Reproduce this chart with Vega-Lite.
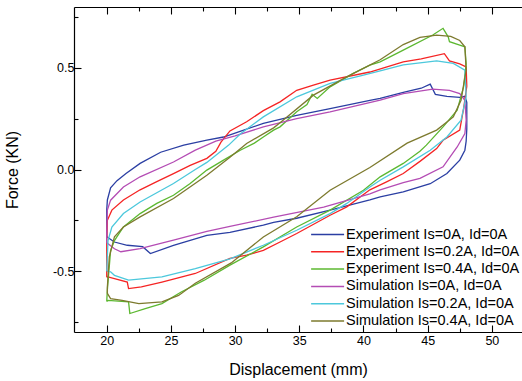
{
  "$schema": "https://vega.github.io/schema/vega-lite/v6.json",
  "width": 448,
  "height": 325,
  "autosize": {"type": "none"},
  "padding": {"left": 74, "top": 7, "right": 0, "bottom": 49},
  "background": "white",
  "config": {
    "view": {"stroke": null},
    "font": "Liberation Sans",
    "axis": {"grid": false, "domainColor": "black", "tickColor": "black", "labelColor": "black", "titleColor": "black", "labelFont": "Liberation Sans", "titleFont": "Liberation Sans", "labelFontSize": 12.5, "titleFontSize": 16, "titleFontWeight": "normal", "domainWidth": 1.2, "tickWidth": 1.1}
  },
  "data": {"values": [
    {"s":"E0","i":1,"x":20.0,"y":-0.33},{"s":"E0","i":2,"x":20.0,"y":-0.2},{"s":"E0","i":3,"x":20.05,"y":-0.15},{"s":"E0","i":4,"x":20.3,"y":-0.09},{"s":"E0","i":5,"x":20.8,"y":-0.055},{"s":"E0","i":6,"x":21.5,"y":-0.02},{"s":"E0","i":7,"x":22.6,"y":0.03},{"s":"E0","i":8,"x":24.2,"y":0.085},{"s":"E0","i":9,"x":26.0,"y":0.12},{"s":"E0","i":10,"x":27.8,"y":0.145},{"s":"E0","i":11,"x":29.1,"y":0.16},{"s":"E0","i":12,"x":30.5,"y":0.19},{"s":"E0","i":13,"x":32.2,"y":0.227},{"s":"E0","i":14,"x":34.8,"y":0.267},{"s":"E0","i":15,"x":37.4,"y":0.3},{"s":"E0","i":16,"x":40.5,"y":0.34},{"s":"E0","i":17,"x":41.3,"y":0.35},{"s":"E0","i":18,"x":43.1,"y":0.38},{"s":"E0","i":19,"x":44.5,"y":0.4},{"s":"E0","i":20,"x":45.2,"y":0.42},{"s":"E0","i":21,"x":45.6,"y":0.37},{"s":"E0","i":22,"x":46.5,"y":0.36},{"s":"E0","i":23,"x":47.5,"y":0.355},{"s":"E0","i":24,"x":47.9,"y":0.36},{"s":"E0","i":25,"x":48.05,"y":0.33},{"s":"E0","i":26,"x":48.05,"y":0.2},{"s":"E0","i":27,"x":48.0,"y":0.14},{"s":"E0","i":28,"x":47.9,"y":0.095},{"s":"E0","i":29,"x":47.5,"y":0.046},{"s":"E0","i":30,"x":46.5,"y":-0.02},{"s":"E0","i":31,"x":45.2,"y":-0.07},{"s":"E0","i":32,"x":43.1,"y":-0.11},{"s":"E0","i":33,"x":41.3,"y":-0.135},{"s":"E0","i":34,"x":40.5,"y":-0.15},{"s":"E0","i":35,"x":37.4,"y":-0.2},{"s":"E0","i":36,"x":34.8,"y":-0.24},{"s":"E0","i":37,"x":33.0,"y":-0.26},{"s":"E0","i":38,"x":32.2,"y":-0.274},{"s":"E0","i":39,"x":29.6,"y":-0.31},{"s":"E0","i":40,"x":27.8,"y":-0.324},{"s":"E0","i":41,"x":25.2,"y":-0.373},{"s":"E0","i":42,"x":23.4,"y":-0.414},{"s":"E0","i":43,"x":22.8,"y":-0.38},{"s":"E0","i":44,"x":21.6,"y":-0.373},{"s":"E0","i":45,"x":20.6,"y":-0.357},{"s":"E0","i":46,"x":20.2,"y":-0.34},{"s":"E0","i":47,"x":20.0,"y":-0.33},
    {"s":"E2","i":1,"x":20.0,"y":-0.53},{"s":"E2","i":2,"x":20.0,"y":-0.35},{"s":"E2","i":3,"x":20.05,"y":-0.25},{"s":"E2","i":4,"x":20.4,"y":-0.2},{"s":"E2","i":5,"x":21.3,"y":-0.15},{"s":"E2","i":6,"x":22.6,"y":-0.1},{"s":"E2","i":7,"x":23.9,"y":-0.06},{"s":"E2","i":8,"x":25.2,"y":-0.02},{"s":"E2","i":9,"x":26.5,"y":0.02},{"s":"E2","i":10,"x":27.8,"y":0.055},{"s":"E2","i":11,"x":28.5,"y":0.09},{"s":"E2","i":12,"x":28.9,"y":0.135},{"s":"E2","i":13,"x":29.6,"y":0.19},{"s":"E2","i":14,"x":30.9,"y":0.235},{"s":"E2","i":15,"x":32.2,"y":0.29},{"s":"E2","i":16,"x":33.5,"y":0.333},{"s":"E2","i":17,"x":34.8,"y":0.39},{"s":"E2","i":18,"x":36.1,"y":0.415},{"s":"E2","i":19,"x":37.4,"y":0.44},{"s":"E2","i":20,"x":40.5,"y":0.48},{"s":"E2","i":21,"x":43.1,"y":0.53},{"s":"E2","i":22,"x":44.5,"y":0.545},{"s":"E2","i":23,"x":46.3,"y":0.57},{"s":"E2","i":24,"x":46.7,"y":0.535},{"s":"E2","i":25,"x":47.5,"y":0.52},{"s":"E2","i":26,"x":48.0,"y":0.505},{"s":"E2","i":27,"x":48.05,"y":0.41},{"s":"E2","i":28,"x":47.8,"y":0.3},{"s":"E2","i":29,"x":47.5,"y":0.194},{"s":"E2","i":30,"x":46.2,"y":0.144},{"s":"E2","i":31,"x":45.7,"y":0.103},{"s":"E2","i":32,"x":44.4,"y":0.04},{"s":"E2","i":33,"x":43.1,"y":-0.02},{"s":"E2","i":34,"x":41.8,"y":-0.061},{"s":"E2","i":35,"x":40.5,"y":-0.1},{"s":"E2","i":36,"x":38.7,"y":-0.184},{"s":"E2","i":37,"x":37.4,"y":-0.225},{"s":"E2","i":38,"x":34.8,"y":-0.315},{"s":"E2","i":39,"x":33.5,"y":-0.357},{"s":"E2","i":40,"x":32.2,"y":-0.398},{"s":"E2","i":41,"x":30.9,"y":-0.422},{"s":"E2","i":42,"x":29.6,"y":-0.438},{"s":"E2","i":43,"x":26.9,"y":-0.512},{"s":"E2","i":44,"x":24.3,"y":-0.554},{"s":"E2","i":45,"x":22.7,"y":-0.578},{"s":"E2","i":46,"x":21.7,"y":-0.586},{"s":"E2","i":47,"x":21.6,"y":-0.554},{"s":"E2","i":48,"x":20.6,"y":-0.537},{"s":"E2","i":49,"x":20.1,"y":-0.529},{"s":"E2","i":50,"x":20.0,"y":-0.53},
    {"s":"E4","i":1,"x":20.0,"y":-0.65},{"s":"E4","i":2,"x":20.05,"y":-0.59},{"s":"E4","i":3,"x":20.3,"y":-0.4},{"s":"E4","i":4,"x":20.6,"y":-0.35},{"s":"E4","i":5,"x":21.3,"y":-0.283},{"s":"E4","i":6,"x":22.6,"y":-0.217},{"s":"E4","i":7,"x":23.9,"y":-0.167},{"s":"E4","i":8,"x":25.2,"y":-0.127},{"s":"E4","i":9,"x":26.5,"y":-0.069},{"s":"E4","i":10,"x":27.8,"y":-0.003},{"s":"E4","i":11,"x":29.1,"y":0.046},{"s":"E4","i":12,"x":30.4,"y":0.095},{"s":"E4","i":13,"x":31.5,"y":0.13},{"s":"E4","i":14,"x":32.2,"y":0.16},{"s":"E4","i":15,"x":33.0,"y":0.194},{"s":"E4","i":16,"x":33.5,"y":0.21},{"s":"E4","i":17,"x":34.8,"y":0.284},{"s":"E4","i":18,"x":35.6,"y":0.32},{"s":"E4","i":19,"x":36.0,"y":0.37},{"s":"E4","i":20,"x":36.4,"y":0.35},{"s":"E4","i":21,"x":37.4,"y":0.407},{"s":"E4","i":22,"x":39.2,"y":0.473},{"s":"E4","i":23,"x":40.5,"y":0.514},{"s":"E4","i":24,"x":41.3,"y":0.53},{"s":"E4","i":25,"x":43.1,"y":0.588},{"s":"E4","i":26,"x":45.4,"y":0.662},{"s":"E4","i":27,"x":46.2,"y":0.695},{"s":"E4","i":28,"x":46.6,"y":0.653},{"s":"E4","i":29,"x":46.7,"y":0.629},{"s":"E4","i":30,"x":47.5,"y":0.612},{"s":"E4","i":31,"x":47.9,"y":0.604},{"s":"E4","i":32,"x":48.0,"y":0.52},{"s":"E4","i":33,"x":47.8,"y":0.407},{"s":"E4","i":34,"x":47.3,"y":0.292},{"s":"E4","i":35,"x":46.2,"y":0.21},{"s":"E4","i":36,"x":44.9,"y":0.12},{"s":"E4","i":37,"x":44.4,"y":0.09},{"s":"E4","i":38,"x":43.1,"y":0.03},{"s":"E4","i":39,"x":41.3,"y":-0.036},{"s":"E4","i":40,"x":40.0,"y":-0.102},{"s":"E4","i":41,"x":37.4,"y":-0.2},{"s":"E4","i":42,"x":34.8,"y":-0.283},{"s":"E4","i":43,"x":32.2,"y":-0.381},{"s":"E4","i":44,"x":29.6,"y":-0.471},{"s":"E4","i":45,"x":27.6,"y":-0.545},{"s":"E4","i":46,"x":25.8,"y":-0.603},{"s":"E4","i":47,"x":24.3,"y":-0.66},{"s":"E4","i":48,"x":23.0,"y":-0.685},{"s":"E4","i":49,"x":21.8,"y":-0.709},{"s":"E4","i":50,"x":21.7,"y":-0.652},{"s":"E4","i":51,"x":20.1,"y":-0.644},{"s":"E4","i":52,"x":20.0,"y":-0.65},
    {"s":"S0","i":1,"x":20.0,"y":-0.36},{"s":"S0","i":2,"x":20.0,"y":-0.315},{"s":"S0","i":3,"x":20.05,"y":-0.2},{"s":"S0","i":4,"x":20.3,"y":-0.151},{"s":"S0","i":5,"x":21.3,"y":-0.086},{"s":"S0","i":6,"x":22.6,"y":-0.036},{"s":"S0","i":7,"x":25.2,"y":0.037},{"s":"S0","i":8,"x":26.9,"y":0.095},{"s":"S0","i":9,"x":28.5,"y":0.14},{"s":"S0","i":10,"x":30.0,"y":0.165},{"s":"S0","i":11,"x":32.2,"y":0.21},{"s":"S0","i":12,"x":34.8,"y":0.251},{"s":"S0","i":13,"x":37.4,"y":0.284},{"s":"S0","i":14,"x":41.3,"y":0.341},{"s":"S0","i":15,"x":43.1,"y":0.374},{"s":"S0","i":16,"x":45.4,"y":0.396},{"s":"S0","i":17,"x":46.7,"y":0.39},{"s":"S0","i":18,"x":47.5,"y":0.374},{"s":"S0","i":19,"x":47.9,"y":0.341},{"s":"S0","i":20,"x":48.0,"y":0.243},{"s":"S0","i":21,"x":47.9,"y":0.177},{"s":"S0","i":22,"x":47.3,"y":0.111},{"s":"S0","i":23,"x":46.2,"y":0.013},{"s":"S0","i":24,"x":44.4,"y":-0.044},{"s":"S0","i":25,"x":43.1,"y":-0.065},{"s":"S0","i":26,"x":41.3,"y":-0.1},{"s":"S0","i":27,"x":40.5,"y":-0.12},{"s":"S0","i":28,"x":36.9,"y":-0.185},{"s":"S0","i":29,"x":33.0,"y":-0.235},{"s":"S0","i":30,"x":29.6,"y":-0.28},{"s":"S0","i":31,"x":27.8,"y":-0.305},{"s":"S0","i":32,"x":25.2,"y":-0.348},{"s":"S0","i":33,"x":22.6,"y":-0.39},{"s":"S0","i":34,"x":21.1,"y":-0.405},{"s":"S0","i":35,"x":20.6,"y":-0.39},{"s":"S0","i":36,"x":20.1,"y":-0.365},{"s":"S0","i":37,"x":20.0,"y":-0.36},
    {"s":"S2","i":1,"x":20.0,"y":-0.5},{"s":"S2","i":2,"x":20.1,"y":-0.35},{"s":"S2","i":3,"x":20.4,"y":-0.283},{"s":"S2","i":4,"x":21.3,"y":-0.217},{"s":"S2","i":5,"x":22.6,"y":-0.16},{"s":"S2","i":6,"x":25.2,"y":-0.069},{"s":"S2","i":7,"x":26.9,"y":0.0},{"s":"S2","i":8,"x":27.8,"y":0.035},{"s":"S2","i":9,"x":29.5,"y":0.12},{"s":"S2","i":10,"x":30.4,"y":0.175},{"s":"S2","i":11,"x":32.2,"y":0.259},{"s":"S2","i":12,"x":34.8,"y":0.358},{"s":"S2","i":13,"x":37.4,"y":0.424},{"s":"S2","i":14,"x":40.0,"y":0.465},{"s":"S2","i":15,"x":41.3,"y":0.485},{"s":"S2","i":16,"x":43.1,"y":0.515},{"s":"S2","i":17,"x":45.7,"y":0.535},{"s":"S2","i":18,"x":47.0,"y":0.522},{"s":"S2","i":19,"x":47.9,"y":0.489},{"s":"S2","i":20,"x":48.0,"y":0.358},{"s":"S2","i":21,"x":47.6,"y":0.243},{"s":"S2","i":22,"x":46.5,"y":0.16},{"s":"S2","i":23,"x":45.2,"y":0.095},{"s":"S2","i":24,"x":43.1,"y":0.013},{"s":"S2","i":25,"x":41.3,"y":-0.053},{"s":"S2","i":26,"x":40.5,"y":-0.086},{"s":"S2","i":27,"x":38.7,"y":-0.167},{"s":"S2","i":28,"x":37.4,"y":-0.217},{"s":"S2","i":29,"x":34.8,"y":-0.299},{"s":"S2","i":30,"x":32.2,"y":-0.373},{"s":"S2","i":31,"x":29.6,"y":-0.44},{"s":"S2","i":32,"x":26.9,"y":-0.488},{"s":"S2","i":33,"x":24.3,"y":-0.529},{"s":"S2","i":34,"x":21.7,"y":-0.545},{"s":"S2","i":35,"x":20.6,"y":-0.521},{"s":"S2","i":36,"x":20.3,"y":-0.504},{"s":"S2","i":37,"x":20.0,"y":-0.5},
    {"s":"S4","i":1,"x":20.05,"y":-0.61},{"s":"S4","i":2,"x":20.05,"y":-0.578},{"s":"S4","i":3,"x":20.2,"y":-0.43},{"s":"S4","i":4,"x":20.6,"y":-0.332},{"s":"S4","i":5,"x":21.3,"y":-0.283},{"s":"S4","i":6,"x":22.6,"y":-0.233},{"s":"S4","i":7,"x":25.2,"y":-0.143},{"s":"S4","i":8,"x":27.8,"y":-0.028},{"s":"S4","i":9,"x":29.6,"y":0.06},{"s":"S4","i":10,"x":30.9,"y":0.128},{"s":"S4","i":11,"x":33.0,"y":0.205},{"s":"S4","i":12,"x":33.5,"y":0.23},{"s":"S4","i":13,"x":36.1,"y":0.366},{"s":"S4","i":14,"x":38.7,"y":0.456},{"s":"S4","i":15,"x":41.3,"y":0.54},{"s":"S4","i":16,"x":43.1,"y":0.615},{"s":"S4","i":17,"x":44.4,"y":0.65},{"s":"S4","i":18,"x":45.7,"y":0.662},{"s":"S4","i":19,"x":46.8,"y":0.655},{"s":"S4","i":20,"x":47.5,"y":0.635},{"s":"S4","i":21,"x":47.9,"y":0.604},{"s":"S4","i":22,"x":48.0,"y":0.489},{"s":"S4","i":23,"x":47.6,"y":0.341},{"s":"S4","i":24,"x":47.0,"y":0.259},{"s":"S4","i":25,"x":45.7,"y":0.194},{"s":"S4","i":26,"x":43.4,"y":0.13},{"s":"S4","i":27,"x":40.5,"y":0.01},{"s":"S4","i":28,"x":37.4,"y":-0.102},{"s":"S4","i":29,"x":34.8,"y":-0.233},{"s":"S4","i":30,"x":32.2,"y":-0.332},{"s":"S4","i":31,"x":29.7,"y":-0.46},{"s":"S4","i":32,"x":26.9,"y":-0.56},{"s":"S4","i":33,"x":25.6,"y":-0.62},{"s":"S4","i":34,"x":24.3,"y":-0.652},{"s":"S4","i":35,"x":22.5,"y":-0.66},{"s":"S4","i":36,"x":21.2,"y":-0.644},{"s":"S4","i":37,"x":20.3,"y":-0.636},{"s":"S4","i":38,"x":20.05,"y":-0.61}
  ]},
  "resolve": {"axis": {"x": "independent"}},
  "layer": [
    {
      "mark": {"type": "line", "strokeWidth": 1.3, "interpolate": "linear"},
      "encoding": {
        "x": {"field": "x", "type": "quantitative", "scale": {"domain": [17.45, 52.35], "nice": false, "zero": false},
          "axis": {"title": "Displacement (mm)", "values": [20, 22.5, 25, 27.5, 30, 32.5, 35, 37.5, 40, 42.5, 45, 47.5, 50], "labelExpr": "datum.value % 5 == 0 ? datum.label : ''", "tickSize": {"condition": {"test": "datum.value % 5 == 0", "value": -7}, "value": -4}, "labelPadding": 9, "titlePadding": 15}},
        "y": {"field": "y", "type": "quantitative", "scale": {"domain": [-0.8, 0.8], "nice": false, "zero": false},
          "axis": {"title": "Force (KN)", "values": [-0.75, -0.5, -0.25, 0, 0.25, 0.5, 0.75], "labelExpr": "datum.value == 0.5 ? '0.5' : datum.value == 0 ? '0.0' : datum.value == -0.5 ? '-0.5' : ''", "tickSize": {"condition": {"test": "datum.value == 0.5 || datum.value == 0 || datum.value == -0.5", "value": -7}, "value": -4}, "labelPadding": 7, "titlePadding": 32}},
        "color": {"field": "s", "type": "nominal",
          "scale": {"domain": ["E0", "E2", "E4", "S0", "S2", "S4"], "range": ["#2B3FA3", "#F52424", "#5CB830", "#B44CB4", "#4CC8DC", "#7D7A2E"]},
          "legend": {"title": null, "orient": "none", "legendX": 256, "legendY": 220, "direction": "vertical", "symbolType": "M-4,0H1", "symbolSize": 174, "symbolStrokeWidth": 1.5, "symbolFillColor": "transparent", "labelFontSize": 14.5, "labelFont": "Liberation Sans", "labelColor": "black", "labelOffset": 1, "labelLimit": 400, "rowPadding": 2.3, "padding": 0,
            "labelExpr": "{'E0': 'Experiment Is=0A, Id=0A', 'E2': 'Experiment Is=0.2A, Id=0A', 'E4': 'Experiment Is=0.4A, Id=0A', 'S0': 'Simulation Is=0A, Id=0A', 'S2': 'Simulation Is=0.2A, Id=0A', 'S4': 'Simulation Is=0.4A, Id=0A'}[datum.label]"}},
        "order": {"field": "i", "type": "quantitative"}
      }
    },
    {
      "mark": {"type": "point", "opacity": 0},
      "encoding": {
        "x": {"field": "x", "type": "quantitative", "axis": {"orient": "top", "title": null, "labels": false, "values": [20, 22.5, 25, 27.5, 30, 32.5, 35, 37.5, 40, 42.5, 45, 47.5, 50], "tickSize": {"condition": {"test": "datum.value % 5 == 0", "value": -7}, "value": -4}}},
        "y": {"field": "y", "type": "quantitative"}
      }
    }
  ]
}
